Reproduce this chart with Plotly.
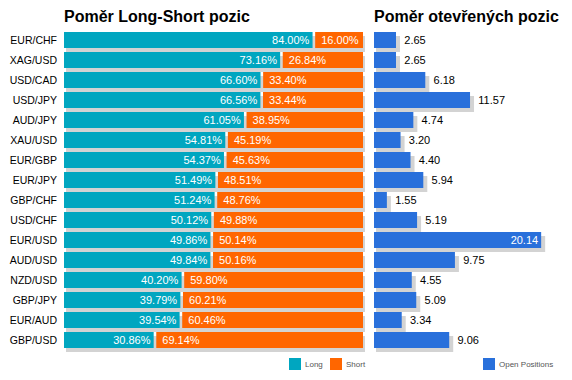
import plotly.graph_objects as go

pairs = ["EUR/CHF", "XAG/USD", "USD/CAD", "USD/JPY", "AUD/JPY", "XAU/USD", "EUR/GBP", "EUR/JPY",
         "GBP/CHF", "USD/CHF", "EUR/USD", "AUD/USD", "NZD/USD", "GBP/JPY", "EUR/AUD", "GBP/USD"]
long_pct = [84.00, 73.16, 66.60, 66.56, 61.05, 54.81, 54.37, 51.49, 51.24, 50.12, 49.86, 49.84, 40.20, 39.79, 39.54, 30.86]
short_pct = [16.00, 26.84, 33.40, 33.44, 38.95, 45.19, 45.63, 48.51, 48.76, 49.88, 50.14, 50.16, 59.80, 60.21, 60.46, 69.14]
open_pos = [2.65, 2.65, 6.18, 11.57, 4.74, 3.20, 4.40, 5.94, 1.55, 5.19, 20.14, 9.75, 4.55, 5.09, 3.34, 9.06]

W, H = 572, 380
FONT = "Liberation Sans, Arial, sans-serif"
TEAL, ORANGE, BLUE, GRAY = "#00A6C0", "#FF6600", "#2970DB", "#D3D3D3"

ypos = list(range(len(pairs)))

# left panel scale: 2.99 px per percent
LPX = 2.99
RPX = 8.3

fig = go.Figure()

# left shadows
fig.add_trace(go.Bar(
    y=ypos, x=[l + s for l, s in zip(long_pct, short_pct)], base=2 / LPX,
    orientation="h", width=0.8, offset=-0.2, marker=dict(color=GRAY, line_width=0),
    xaxis="x", yaxis="y", showlegend=False, hoverinfo="skip"))
# long
fig.add_trace(go.Bar(
    y=ypos, x=[l - 2.6 / LPX for l in long_pct], base=0,
    orientation="h", width=0.8, offset=-0.4, marker=dict(color=TEAL, line_width=0),
    text=[f"{l:.2f}%" for l in long_pct], textposition="inside", insidetextanchor="end",
    textangle=0, constraintext="none",
    textfont=dict(color="white", size=11, family=FONT),
    xaxis="x", yaxis="y", showlegend=False, name="Long"))
# short
fig.add_trace(go.Bar(
    y=ypos, x=short_pct, base=long_pct,
    orientation="h", width=0.8, offset=-0.4, marker=dict(color=ORANGE, line_width=0),
    text=["\u00a0" + f"{s:.2f}%" for s in short_pct], textposition="inside", insidetextanchor="start",
    textangle=0, constraintext="none",
    textfont=dict(color="white", size=11, family=FONT),
    xaxis="x", yaxis="y", showlegend=False, name="Short"))

vmax = max(open_pos)
# right shadows
fig.add_trace(go.Bar(
    y=ypos, x=[v + 2 / RPX for v in open_pos], base=2 / RPX,
    orientation="h", width=0.8, offset=-0.2, marker=dict(color=GRAY, line_width=0),
    xaxis="x2", yaxis="y2", showlegend=False, hoverinfo="skip"))
# right bars
fig.add_trace(go.Bar(
    y=ypos, x=open_pos, base=0,
    orientation="h", width=0.8, offset=-0.4, marker=dict(color=BLUE, line_width=0),
    text=[(f"{v:.2f}" if v == vmax else "\u00a0\u2009" + f"{v:.2f}") for v in open_pos],
    textposition=[("inside" if v == vmax else "outside") for v in open_pos],
    insidetextanchor="end", textangle=0, constraintext="none", cliponaxis=False,
    insidetextfont=dict(color="white", size=11, family=FONT),
    outsidetextfont=dict(color="black", size=11, family=FONT),
    xaxis="x2", yaxis="y2", showlegend=False, name="Open Positions"))

ydom = [1 - 354 / H, 1 - 28 / H]
yrange = [15.7, -0.6]

fig.update_layout(
    width=W, height=H, autosize=False,
    margin=dict(l=0, r=0, t=0, b=0),
    paper_bgcolor="white", plot_bgcolor="white",
    barmode="overlay",
    font=dict(family=FONT, color="black"),
    xaxis=dict(domain=[64 / W, 369 / W], range=[0, 305 / LPX], showgrid=False, zeroline=False,
               showticklabels=False, showline=False, fixedrange=True),
    yaxis=dict(domain=ydom, range=yrange, tickmode="array", tickvals=ypos, ticktext=pairs,
               showgrid=False, zeroline=False, showline=False, ticks="",
               ticklabelstandoff=6, tickfont=dict(size=10.5, family=FONT, color="black")),
    xaxis2=dict(domain=[374 / W, 1.0], range=[0, 198 / RPX], anchor="y2", showgrid=False,
                zeroline=False, showticklabels=False, showline=False),
    yaxis2=dict(domain=ydom, range=yrange, anchor="x2", showgrid=False, zeroline=False,
                showticklabels=False, showline=False),
)

# titles
fig.add_annotation(text="<b>Poměr Long-Short pozic</b>", x=62 / W, y=1 - 16 / H, xref="paper", yref="paper",
                   xanchor="left", yanchor="middle", showarrow=False,
                   font=dict(size=16, family=FONT, color="black"))
fig.add_annotation(text="<b>Poměr otevřených pozic</b>", x=372 / W, y=1 - 16 / H, xref="paper", yref="paper",
                   xanchor="left", yanchor="middle", showarrow=False,
                   font=dict(size=16, family=FONT, color="black"))

# legends
legend_items = [(289, TEAL, "Long"), (330, ORANGE, "Short"), (483, BLUE, "Open Positions")]
for x0, col, label in legend_items:
    fig.add_shape(type="rect", xref="paper", yref="paper",
                  x0=x0 / W, x1=(x0 + 12) / W, y0=1 - 370 / H, y1=1 - 358 / H,
                  fillcolor=col, line_width=0)
    fig.add_annotation(text=label, x=(x0 + 14) / W, y=1 - 364.5 / H, xref="paper", yref="paper",
                       xanchor="left", yanchor="middle", showarrow=False,
                       font=dict(size=8, family=FONT, color="#555555"))

fig.write_html("out.html", config={"displayModeBar": False},
               post_script="document.body.style.margin='0';document.body.style.overflow='hidden';")
